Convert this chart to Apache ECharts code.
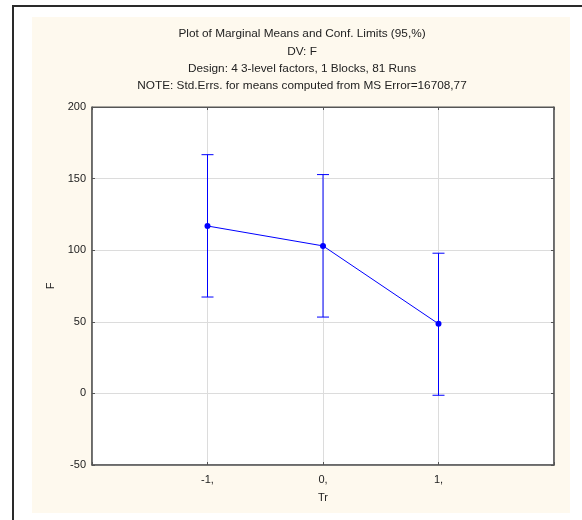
<!DOCTYPE html>
<html><head><meta charset="utf-8">
<script src="https://cdn.jsdelivr.net/npm/echarts@6/dist/echarts.min.js"></script>
<style>html,body{margin:0;padding:0;background:#fff}#c{width:582px;height:520px}</style>
</head><body><div id="c"></div>
<script>
const categories = [-1, 0, 1];
const categoryLabels = ['-1,', '0,', '1,'];
const means = [116.9, 103.0, 48.6];
const lowerLimits = [67.3, 53.3, -1.3];
const upperLimits = [166.7, 152.8, 97.9];
const yTicks = [-50, 0, 50, 100, 150, 200];
const titleLines = [
  'Plot of Marginal Means and Conf. Limits (95,%)',
  'DV: F',
  'Design: 4 3-level factors, 1 Blocks, 81 Runs',
  'NOTE: Std.Errs. for means computed from MS Error=16708,77'
];

const chart = echarts.init(document.getElementById('c'), null, {renderer: 'canvas'});
const font = 'Arial, "Liberation Sans", sans-serif';
const lineData = categories.map((c, i) => [c, means[i]]);
const errData = categories.map((c, i) => [c, lowerLimits[i], upperLimits[i]]);

chart.setOption({
  animation: false,
  backgroundColor: '#ffffff',
  graphic: [
    {type: 'rect', z: -10, shape: {x: 32, y: 17, width: 538, height: 496}, style: {fill: '#fef9ee'}},
    {type: 'polyline', z: -9, shape: {points: [[13, 530], [13, 6], [590, 6]]}, style: {stroke: '#2a2a2a', lineWidth: 2, fill: null}},
    {type: 'text', x: 302, y: 25.4, z: 5, style: {
      text: titleLines.join('\n'), align: 'center', verticalAlign: 'top',
      fontFamily: font, fontSize: 11.8, fill: '#222', lineHeight: 17.3
    }}
  ],
  grid: {left: 92, top: 107, right: 28, bottom: 55, show: true, backgroundColor: '#ffffff', borderColor: '#555', borderWidth: 1},
  xAxis: [{
    type: 'value', min: -2, max: 2, interval: 1,
    name: 'Tr', nameLocation: 'middle', nameGap: 27,
    nameTextStyle: {fontFamily: font, fontSize: 11, color: '#222'},
    axisLine: {show: true, onZero: false, lineStyle: {color: '#555', width: 1.5}},
    axisTick: {show: true, inside: true, length: 3, lineStyle: {color: '#555'}},
    axisLabel: {fontFamily: font, fontSize: 11, color: '#222', margin: 9,
      formatter: v => { const i = categories.indexOf(v); return i >= 0 ? categoryLabels[i] : ''; }},
    splitLine: {show: true, lineStyle: {color: '#dcdcdc', width: 1}}
  }, {
    type: 'value', min: -2, max: 2, interval: 1, position: 'top',
    axisLine: {show: true, onZero: false, lineStyle: {color: '#555', width: 1}},
    axisTick: {show: true, inside: true, length: 3, lineStyle: {color: '#555'}},
    axisLabel: {show: false}, splitLine: {show: false}
  }],
  yAxis: [{
    type: 'value', min: yTicks[0], max: yTicks[yTicks.length - 1], interval: 50,
    name: 'F', nameLocation: 'middle', nameGap: 34, nameRotate: 90,
    nameTextStyle: {fontFamily: font, fontSize: 11, color: '#222'},
    axisLine: {show: true, onZero: false, lineStyle: {color: '#555', width: 1.5}},
    axisTick: {show: true, inside: true, length: 3, lineStyle: {color: '#555'}},
    axisLabel: {fontFamily: font, fontSize: 11, color: '#222', margin: 6},
    splitLine: {show: true, lineStyle: {color: '#dcdcdc', width: 1}}
  }, {
    type: 'value', min: yTicks[0], max: yTicks[yTicks.length - 1], interval: 50, position: 'right',
    axisLine: {show: true, onZero: false, lineStyle: {color: '#555', width: 1.5}},
    axisTick: {show: true, inside: true, length: 3, lineStyle: {color: '#555'}},
    axisLabel: {show: false}, splitLine: {show: false}
  }],
  series: [{
    type: 'custom',
    data: errData,
    z: 3,
    renderItem: function (params, api) {
      const x = api.value(0);
      const lo = api.coord([x, api.value(1)]);
      const hi = api.coord([x, api.value(2)]);
      const cap = 6;
      const st = {stroke: '#0000ff', lineWidth: 1};
      return {type: 'group', children: [
        {type: 'line', shape: {x1: lo[0], y1: lo[1], x2: hi[0], y2: hi[1]}, style: st},
        {type: 'line', shape: {x1: lo[0] - cap, y1: lo[1], x2: lo[0] + cap, y2: lo[1]}, style: st},
        {type: 'line', shape: {x1: hi[0] - cap, y1: hi[1], x2: hi[0] + cap, y2: hi[1]}, style: st}
      ]};
    }
  }, {
    type: 'line',
    data: lineData,
    z: 4,
    symbol: 'circle',
    symbolSize: 6,
    itemStyle: {color: '#0000ff'},
    lineStyle: {color: '#0000ff', width: 1}
  }]
});
</script></body></html>
